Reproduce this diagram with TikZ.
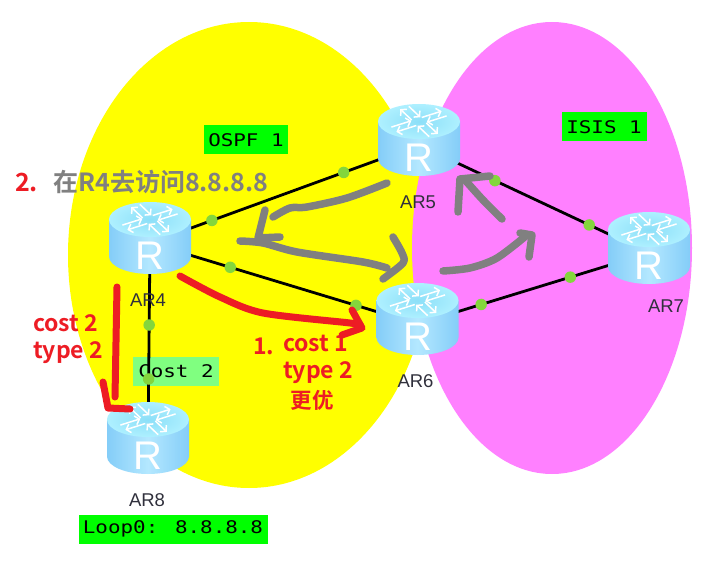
\documentclass[tikz,border=0pt]{standalone}
\usepackage{fontspec}
\setmainfont{Liberation Sans}
\newfontfamily\cjkbold[BoldFont=Noto Sans CJK SC Bold]{Noto Sans CJK SC}
\newfontfamily\monofont[FakeStretch=1.2]{DejaVu Sans Mono}
\usetikzlibrary{positioning,arrows.meta}
\definecolor{ospfyellow}{HTML}{FFFF00}
\definecolor{isispink}{HTML}{FF80FF}
\definecolor{tagGreen}{HTML}{00FF00}
\definecolor{costGreen}{HTML}{80FF80}
\definecolor{portGreen}{HTML}{84D63C}
\definecolor{noteRed}{HTML}{ED1C24}
\definecolor{noteGray}{HTML}{808080}
\definecolor{capBlue}{HTML}{AEF0FF}
\definecolor{capInner}{HTML}{8CDFF8}
\definecolor{bodyEdge}{HTML}{84CDF8}
\definecolor{bodyMid}{HTML}{B4E8FF}
\definecolor{labelInk}{HTML}{30303C}

\tikzset{
    router/.pic={
        \path[left color=bodyEdge, right color=bodyEdge, middle color=bodyMid]
            (-41,-23.5) -- (-41,13.5) arc[start angle=180, end angle=360, x radius=41pt, y radius=17.5pt]
            -- (41,-23.5) -- cycle;
        \path[inner color=capInner, outer color=capBlue] (0,-23.5) ellipse[x radius=41pt, y radius=17.5pt];
        \foreach \a in {30,120,210,300}{
            \begin{scope}[shift={(0,-23.5)}, yscale=0.55, rotate=\a]
                \draw[white, line width=1.5pt, -{Straight Barb[length=4pt,width=9pt]}] (6,-5) -- (29,-5);
                \draw[white, line width=1.5pt, -{Straight Barb[length=4pt,width=9pt]}] (29,5) -- (6,5);
            \end{scope}
        }
        \node[text=white, font=\fontsize{40}{40}\selectfont, inner sep=0pt] (glyph) at (0,13) {R};
    }
}

\begin{document}
\begin{tikzpicture}[
    x=1pt, y=-1pt,
    node distance=14pt,
    routerbox/.style={minimum width=82pt, minimum height=72pt, inner sep=0pt},
    hostname/.style={font=\fontsize{18.5}{18.5}\selectfont, text=labelInk, inner sep=0pt},
    tag/.style={fill=tagGreen, font=\monofont\fontsize{17.4}{17.4}\selectfont, inner sep=0pt,
        minimum height=29pt},
    link/.style={draw=black, line width=2.8pt},
    port/.style={circle, fill=portGreen, minimum size=11.5pt, inner sep=0pt},
    redpen/.style={draw=noteRed, line width=7pt, line cap=round, line join=round},
    graypen/.style={draw=noteGray, line width=7.5pt, line cap=round, line join=round},
    rednote/.style={text=noteRed, font=\cjkbold\bfseries\fontsize{23}{23}\selectfont, inner sep=0pt}
]
\useasboundingbox (0,0) rectangle (702,575);
\fill[white] (0,0) rectangle (702,575);

%% Routing domains
\fill[ospfyellow] (249,255) ellipse[x radius=181pt, y radius=233pt];
\fill[isispink] (552,248) ellipse[x radius=140pt, y radius=226pt];

%% Router anchors
\node[routerbox] (AR4) at (150,243) {};
\node[routerbox] (AR5) at (419,145) {};
\node[routerbox] (AR6) at (417.5,324) {};
\node[routerbox] (AR7) at (649,253) {};
\node[routerbox] (AR8) at (148,443) {};

%% Tags
\node[tag, minimum width=84pt] (ospf) at (246,140) {OSPF 1};
\node[tag, minimum width=85pt] (isis) at (604,127) {ISIS 1};
\node[tag, fill=costGreen, minimum width=86pt] (cost) at (176,371) {Cost 2};
\node[tag, minimum width=189pt] (loop) at (173,529) {Loop0: 8.8.8.8};

%% Links with their ports
\draw[link] (AR4.center) -- node[port, pos=0.23] (p45a) {} node[port, pos=0.72] (p45b) {} (AR5.center);
\draw[link] (AR4.center) -- node[port, pos=0.30] (p46a) {} node[port, pos=0.77] (p46b) {} (AR6.center);
\draw[link] (AR5.center) -- node[port, pos=0.33] (p57a) {} node[port, pos=0.74] (p57b) {} (AR7.center);
\draw[link] (AR6.center) -- node[port, pos=0.275] (p67a) {} node[port, pos=0.66] (p67b) {} (AR7.center);
\draw[link] (AR4.center) -- node[port, pos=0.41] (p48a) {} node[port, pos=0.68] (p48b) {} (AR8.center);

%% Router icons
\foreach \name in {AR4,AR5,AR6,AR7,AR8}{
    \path (\name.center) pic (\name-icon) {router};
}

%% Host names
\node[hostname, below=of AR4, xshift=-2pt] (nameAR4) {AR4};
\node[hostname, below=of AR5, xshift=-1pt] (nameAR5) {AR5};
\node[hostname, below=of AR6, xshift=-2pt] (nameAR6) {AR6};
\node[hostname, below=of AR7, xshift=17pt, yshift=4pt] (nameAR7) {AR7};
\node[hostname, below=of AR8, xshift=-1pt] (nameAR8) {AR8};

%% Gray pen strokes
\draw[graypen] plot[smooth] coordinates {(387,183) (347,198) (307,207) (290,208) (273,217)};
\draw[graypen] (265,210) -- (258,238) -- (280,237);
\draw[graypen] plot[smooth] coordinates {(240,241) (263,243) (297,252) (363,262) (387,268)};
\draw[graypen] plot[smooth] coordinates {(393,237) (402,253) (403,263) (383,279)};
\draw[graypen] plot[smooth] coordinates {(443,271) (470,268) (497,258) (527,235)};
\draw[graypen] (520,233) -- (532,235) -- (529,257);
\draw[graypen] plot[smooth] coordinates {(502,219) (483,200) (465,180)};
\draw[graypen] (458,212) -- (460,179) -- (490,176);

%% Red pen strokes
\draw[redpen] plot[smooth] coordinates {(180,276) (220,297) (263,313) (350,323) (360,325)};
\draw[redpen] (352,310) -- (362,328) -- (342,335);
\draw[redpen] (117,287) -- (115,397);
\draw[redpen] (103,382) -- (108,408) -- (130,409);

%% Notes
\node[rednote, font=\cjkbold\bfseries\fontsize{25}{25}\selectfont, anchor=west] (two) at (15,182) {2.};
\node[text=noteGray, font=\cjkbold\bfseries\fontsize{25}{25}\selectfont, inner sep=0pt, anchor=west] (access) at (53,182) {在R4去访问8.8.8.8};
\node[rednote, anchor=west] (costa) at (33,323) {cost 2};
\node[rednote, anchor=west] (typea) at (33,353) {type 2};
\node[rednote, anchor=west] (one) at (253,346) {1.};
\node[rednote, anchor=west] (costb) at (283,343) {cost 1};
\node[rednote, anchor=west] (typeb) at (283,373) {type 2};
\node[rednote, font=\cjkbold\bfseries\fontsize{21.5}{21.5}\selectfont] (better) at (312,400) {更优};

\end{tikzpicture}
\end{document}
